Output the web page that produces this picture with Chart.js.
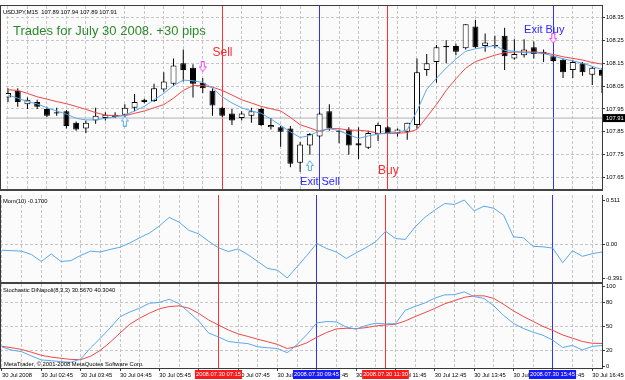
<!DOCTYPE html>
<html><head><meta charset="utf-8">
<script src="https://cdn.jsdelivr.net/npm/chart.js@4.4.1/dist/chart.umd.min.js"></script>
<style>
html,body{margin:0;padding:0;background:#fff;}
#wrap{position:relative;width:625px;height:380px;overflow:hidden;background:#fff;}
canvas{position:absolute;left:0;}
</style></head><body>
<div id="wrap">
<canvas id="cMain" width="625" height="195" style="top:0px"></canvas>
<canvas id="cMom" width="625" height="89" style="top:195px"></canvas>
<canvas id="cSto" width="625" height="96" style="top:284px"></canvas>
</div>
<script>
// ---------------- data ----------------
const headerText = 'USDJPY,M15  107.89 107.94 107.89 107.91';
const titleText = 'Trades for July 30 2008. +30 pips';
const momLabel = 'Mom(10) -0.1700';
const stoLabel = 'Stochastic DiNapoli(8,3,3) 30.5670 40.3040';
const copyLabel = 'MetaTrader, \u00A9 2001-2008 MetaQuotes Software Corp.';

const open  = [108.00,108.03,107.97,107.98,107.95,107.935,107.94,107.89,107.865,107.90,107.91,107.915,107.925,107.955,107.99,107.985,108.035,108.06,108.15,108.13,108.065,108.03,107.955,107.93,107.91,107.92,107.95,107.87,107.87,107.865,107.715,107.79,107.83,107.94,107.855,107.86,107.80,107.78,107.84,107.87,107.845,107.85,107.88,108.12,108.155,108.225,108.225,108.215,108.31,108.225,108.23,108.27,108.17,108.185,108.22,108.20,108.18,108.165,108.12,108.15,108.10,108.12];
const high  = [108.04,108.04,108.00,107.99,107.96,107.955,107.945,107.895,107.90,107.955,107.935,107.935,107.97,108.015,107.995,108.06,108.11,108.17,108.21,108.145,108.085,108.04,107.96,107.95,107.94,107.955,107.955,107.91,107.875,107.875,107.805,107.845,107.935,107.97,107.86,107.87,107.87,107.855,107.89,107.875,107.865,107.89,108.17,108.19,108.23,108.25,108.235,108.32,108.34,108.28,108.27,108.305,108.255,108.255,108.245,108.21,108.185,108.17,108.165,108.155,108.135,108.13];
const low   = [107.98,107.96,107.95,107.95,107.915,107.92,107.865,107.855,107.845,107.885,107.90,107.91,107.91,107.94,107.975,107.98,108.025,108.05,108.07,108.00,108.02,107.92,107.915,107.88,107.90,107.89,107.875,107.86,107.785,107.695,107.675,107.75,107.825,107.855,107.80,107.75,107.73,107.775,107.81,107.84,107.83,107.815,107.865,108.095,108.065,108.15,108.185,108.21,108.215,108.20,108.215,108.12,108.165,108.175,108.17,108.155,108.155,108.085,108.085,108.095,108.055,108.02];
const close = [108.02,107.98,107.99,107.96,107.92,107.93,107.875,107.86,107.89,107.92,107.925,107.925,107.955,107.98,107.98,108.04,108.07,108.14,108.12,108.06,108.04,107.965,107.92,107.90,107.93,107.94,107.88,107.88,107.85,107.71,107.795,107.84,107.93,107.865,107.85,107.79,107.79,107.845,107.88,107.845,107.86,107.89,108.11,108.15,108.22,108.22,108.20,108.32,108.22,108.24,108.225,108.18,108.19,108.21,108.19,108.19,108.16,108.11,108.155,108.11,108.13,108.095];
const maFast = [108.011,107.997,107.982,107.972,107.955,107.941,107.927,107.909,107.902,107.902,107.909,107.915,107.923,107.941,107.961,107.99,108.018,108.052,108.076,108.073,108.066,108.041,108.003,107.976,107.955,107.941,107.931,107.906,107.878,107.85,107.825,107.834,107.855,107.864,107.855,107.837,107.821,107.832,107.84,107.845,107.847,107.859,107.941,108.036,108.084,108.129,108.168,108.202,108.213,108.22,108.227,108.206,108.202,108.196,108.195,108.192,108.182,108.169,108.16,108.15,108.136,108.122];
const maSlow = [108.034,108.031,108.018,108.003,107.993,107.982,107.973,107.961,107.948,107.934,107.923,107.92,107.92,107.931,107.941,107.955,107.969,107.997,108.031,108.052,108.052,108.045,108.031,108.011,107.99,107.976,107.961,107.951,107.941,107.913,107.881,107.867,107.851,107.864,107.864,107.857,107.857,107.853,107.843,107.843,107.843,107.847,107.86,107.914,107.969,108.031,108.082,108.128,108.157,108.171,108.185,108.196,108.199,108.199,108.199,108.196,108.188,108.178,108.171,108.164,108.153,108.146];
const mom = [-0.07,-0.075,-0.08,-0.12,-0.20,-0.112,-0.20,-0.19,-0.13,-0.08,-0.09,-0.06,-0.035,0.015,0.075,0.13,0.21,0.31,0.255,0.16,0.12,0.035,-0.04,-0.085,-0.055,-0.12,-0.20,-0.28,-0.30,-0.391,-0.26,-0.13,0.01,-0.05,-0.09,-0.165,-0.10,-0.04,0.03,0.15,0.066,0.055,0.20,0.31,0.395,0.47,0.46,0.511,0.385,0.44,0.415,0.335,0.085,0.075,-0.025,-0.03,-0.045,-0.215,-0.075,-0.14,-0.11,-0.09];
const stochMain = [24,20,18,12.6,7.6,6.7,5.4,4.7,8.8,22.7,35,48,62,68,72.8,79,80,84,78.6,67.7,56.7,41.6,36.6,31,29.4,28.2,24.2,23,22,16.8,27,39.7,54.2,56,55.5,49,46.4,51,53.8,53,53.3,70.2,75,79.4,85.5,89.5,89.8,93.3,87.4,85,75.7,63.7,53.6,47.3,42.5,38.7,32.5,23.3,25.9,20.2,24.6,25.9];
const stochSignal = [24.8,23,20.8,17.3,13.5,11.3,9.7,8.3,8,12.2,19.8,29.9,41.6,52.6,60.2,66.5,72,74.8,75.7,72.8,66.2,58,51.7,45.4,40.4,37.2,33.7,30.6,27.2,22,24.6,29.3,36.2,42.2,46.7,47.5,47,48.3,50.4,51.7,52.6,56.7,62.2,67.2,72.5,78.2,82.3,86.4,88.3,88.3,85.1,77.6,69.4,62.4,56.1,49.8,44.8,39.1,35,30.9,28.6,28.4];

const xGridIdx = [0,2,4,6,8,10,12,14,16,18,20,22,24,26,28,30,32,34,36,38,40,42,44,46,48,50,52,54,56,58,60];
const xLabelIdx = [0,4,8,12,16,20,24,28,32,36,40,44,48,52,56,60];
const xTickLabels = ['30 Jul 2008','30 Jul 02:45','30 Jul 03:45','30 Jul 04:45','30 Jul 05:45','30 Jul 06:45','30 Jul 07:45','30 Jul 08:45','30 Jul 09:45','30 Jul 10:45','30 Jul 11:45','30 Jul 12:45','30 Jul 13:45','30 Jul 14:45','30 Jul 15:45','30 Jul 16:45'];
const priceTicks = [107.65,107.75,107.85,107.95,108.05,108.15,108.25,108.35];
const momTicks = [0.511,0,-0.391];
const momTickLabels = ['0.511','0.00','-0.391'];
const stochTicks = [0,20,50,80,100];
const stochLevels = [20,50,80];
const bidPrice = 107.91;

const vlineIdx  = [22,32,39,56];
const vlineTime = ['2008.07.30 07:15','2008.07.30 09:45','2008.07.30 11:30','2008.07.30 15:45'];
const vlineKind = ['red','blue','red','blue'];
const noteText  = ['Sell','Exit Sell','Buy','Exit Buy'];
const noteIdx   = [21,30,38,53];
const notePrice = [108.182,107.616,107.664,108.28];
const noteKind  = ['red','blue','red','blue'];
const arrowIdx   = [12,20,31,56];
const arrowPrice = [107.897,108.134,107.703,108.258];
const arrowDir   = ['up','down','up','down'];

// ---------------- styles ----------------
const FONT = "'Liberation Sans', Arial, sans-serif";
const SMALL = {family: FONT, size: 5.8};
const GRID = '#c6c6c6';
const AXIS = '#3a3a3a';
const PANEL_BG = '#fbfbfb';
const BLUE_LINE = '#5aa9ee';
const RED_LINE = '#f04848';
const VCOL = {red:'#ff3030', blue:'#3030ff'};
const NCOL = {red:'#ff2c2c', blue:'#2a2aff'};
const BOXCOL = {red:'#ff1a1a', blue:'#1a1aff'};
const X_MIN = -0.203, X_MAX = 61.0;
const idx = open.map((_, i) => i);
const CLEAR = 'rgba(0,0,0,0)';

Chart.defaults.font.family = FONT;

function makeArrow(dir, color) {
  const cv = document.createElement('canvas');
  cv.width = 8; cv.height = 11;
  const g = cv.getContext('2d');
  g.save();
  if (dir === 'up') { g.translate(0, 11); g.scale(1, -1); }
  g.beginPath();
  g.moveTo(2.5, 0.5); g.lineTo(5.5, 0.5); g.lineTo(5.5, 5.5); g.lineTo(7.5, 5.5);
  g.lineTo(4, 10.2); g.lineTo(0.5, 5.5); g.lineTo(2.5, 5.5); g.closePath();
  g.fillStyle = '#ffffff'; g.fill();
  g.strokeStyle = color; g.lineWidth = 1; g.stroke();
  g.restore();
  return cv;
}
const ARROW_IMG = {up: makeArrow('up', '#5aa9ee'), down: makeArrow('down', '#ee40ee')};

function labelFor(v) {
  const k = xLabelIdx.indexOf(v);
  return k >= 0 ? xTickLabels[k] : '';
}
function xScale(show) {
  return {
    type: 'linear', min: X_MIN, max: X_MAX, offset: false,
    afterBuildTicks: s => { s.ticks = xGridIdx.map(v => ({value: v})); },
    grid: {color: GRID, lineWidth: 1, drawTicks: show, tickLength: 3, offset: false,
           tickColor: ctx => (ctx.tick && xLabelIdx.includes(ctx.tick.value)) ? AXIS : CLEAR},
    border: {display: show, color: AXIS, dash: [3, 2]},
    ticks: {display: show, autoSkip: false, maxRotation: 0, minRotation: 0, align: 'start', padding: 1,
            font: SMALL, color: '#000', callback: v => labelFor(v)},
    afterFit: s => { s.height = show ? 12 : 0; s.paddingLeft = 0; s.paddingRight = 0; }
  };
}
function yScale(min, max, ticks, labelFn, gridFn) {
  return {
    position: 'right', min: min, max: max, beginAtZero: false,
    afterBuildTicks: s => { s.ticks = ticks.map(v => ({value: v})); },
    grid: {color: gridFn, drawTicks: true, tickLength: 3, tickColor: AXIS},
    border: {display: true, color: AXIS, dash: [3, 2]},
    ticks: {padding: 1, font: SMALL, color: '#000', callback: labelFn},
    afterFit: s => { s.width = 23; s.paddingTop = 0; s.paddingBottom = 0; }
  };
}

const bgPlugin = {
  id: 'bg',
  beforeDraw(c) {
    const ctx = c.ctx, a = c.chartArea;
    ctx.save();
    ctx.fillStyle = '#ffffff'; ctx.fillRect(0, 0, c.width, c.height);
    ctx.fillStyle = PANEL_BG; ctx.fillRect(a.left, a.top, a.right - a.left, a.bottom - a.top);
    ctx.restore();
  }
};
function drawVlines(c) {
  const ctx = c.ctx, a = c.chartArea, xs = c.scales.x;
  ctx.save();
  ctx.globalAlpha = 1; ctx.setLineDash([]); ctx.lineWidth = 1;
  vlineIdx.forEach((v, k) => {
    const x = Math.floor(xs.getPixelForValue(v));
    ctx.fillStyle = VCOL[vlineKind[k]];
    ctx.fillRect(x, a.top, 1, a.bottom - a.top);
  });
  ctx.restore();
}
const vlinePlugin = { id: 'vlines', beforeDatasetsDraw(c) { drawVlines(c); } };
const framePlugin = {
  id: 'frame',
  afterDraw(c, args, opts) {
    const ctx = c.ctx, a = c.chartArea;
    ctx.save(); ctx.fillStyle = AXIS;
    ctx.fillRect(0, a.top, 1, a.bottom - a.top);
    if (opts.top) ctx.fillRect(0, a.top - 1, a.right + 1, 1);
    if (opts.sep) { ctx.fillStyle = '#444'; ctx.fillRect(0, a.bottom, a.right + 1, 2); }
    ctx.fillStyle = '#000'; ctx.font = '5.8px ' + FONT; ctx.textAlign = 'left'; ctx.textBaseline = 'alphabetic';
    if (opts.label) ctx.fillText(opts.label, 3, a.top + opts.labelY);
    if (opts.foot) ctx.fillText(opts.foot, 4, a.bottom - 2.5);
    ctx.restore();
  }
};
const mainAnno = {
  id: 'mainAnno',
  afterDatasetsDraw(c) {
    const ctx = c.ctx, xs = c.scales.x, ys = c.scales.y, a = c.chartArea;
    ctx.save();
    ctx.textAlign = 'left'; ctx.textBaseline = 'alphabetic';
    ctx.font = '13px ' + FONT; ctx.fillStyle = '#2b8a2b';
    ctx.fillText(titleText, 13, 35);
    noteText.forEach((t, k) => {
      ctx.font = (noteKind[k] === 'blue' ? '11px ' : '12px ') + FONT;
      ctx.fillStyle = NCOL[noteKind[k]];
      ctx.fillText(t, xs.getPixelForValue(noteIdx[k]), ys.getPixelForValue(notePrice[k]));
    });
    const by = ys.getPixelForValue(bidPrice);
    ctx.fillStyle = '#000'; ctx.fillRect(a.right + 1, by - 4, 22, 8);
    ctx.fillStyle = '#fff'; ctx.font = '5.8px ' + FONT; ctx.textAlign = 'left'; ctx.textBaseline = 'middle';
    ctx.fillText(bidPrice.toFixed(2), a.right + 4, by + 0.5);
    ctx.restore();
  }
};
const timeBoxPlugin = {
  id: 'timeBox',
  afterDraw(c) {
    const ctx = c.ctx, xs = c.scales.x, a = c.chartArea;
    ctx.save();
    ctx.font = '5.8px ' + FONT; ctx.textAlign = 'center'; ctx.textBaseline = 'middle';
    vlineIdx.forEach((v, k) => {
      const x = Math.floor(xs.getPixelForValue(v)) + 0.5;
      const w = ctx.measureText(vlineTime[k]).width + 2;
      ctx.fillStyle = BOXCOL[vlineKind[k]];
      ctx.fillRect(x - w / 2, a.bottom + 2, w, 9);
      ctx.fillStyle = '#fff';
      ctx.fillText(vlineTime[k], x, a.bottom + 6.8);
    });
    ctx.restore();
  }
};

const common = {
  responsive: false, animation: false, devicePixelRatio: 1, events: [],
  plugins: {legend: {display: false}, tooltip: {enabled: false}}
};

// ---------------- main price panel ----------------
new Chart(document.getElementById('cMain'), {
  type: 'bar',
  data: {datasets: [
    {type: 'scatter', data: arrowIdx.map((v, k) => ({x: v, y: arrowPrice[k]})),
     pointStyle: arrowDir.map(d => ARROW_IMG[d]), pointRadius: 5, showLine: false, order: -1},
    {type: 'line', data: idx.map(i => ({x: i, y: maFast[i]})), borderColor: BLUE_LINE, borderWidth: 1, pointRadius: 0, tension: 0, order: 0},
    {type: 'line', data: idx.map(i => ({x: i, y: maSlow[i]})), borderColor: RED_LINE, borderWidth: 1, pointRadius: 0, tension: 0, order: 1},
    {type: 'bar', data: idx.map(i => ({x: i, y: [open[i], close[i]]})),
     backgroundColor: idx.map(i => close[i] >= open[i] ? '#ffffff' : '#000000'),
     borderColor: '#000', borderWidth: 1, borderSkipped: false, barThickness: 6, grouped: false, inflateAmount: 0, order: 2},
    {type: 'bar', data: idx.map(i => ({x: i, y: [low[i], high[i]]})),
     backgroundColor: '#000', borderWidth: 0, barThickness: 1, grouped: false, inflateAmount: 0, order: 3},
    {type: 'line', data: [{x: X_MIN, y: bidPrice}, {x: X_MAX, y: bidPrice}], borderColor: '#b4b4b4', borderWidth: 1, pointRadius: 0, order: 4}
  ]},
  options: Object.assign({}, common, {
    layout: {padding: {top: 2, bottom: 2, left: 0, right: 0}},
    scales: {
      x: xScale(false),
      y: yScale(107.6, 108.4, priceTicks, v => v.toFixed(2), () => GRID)
    },
    plugins: Object.assign({}, common.plugins, {frame: {top: true, sep: true, label: headerText, labelY: 7.5}})
  }),
  plugins: [bgPlugin, vlinePlugin, mainAnno, framePlugin]
});

// ---------------- momentum panel ----------------
new Chart(document.getElementById('cMom'), {
  type: 'line',
  data: {datasets: [
    {data: idx.map(i => ({x: i, y: mom[i]})), borderColor: BLUE_LINE, borderWidth: 1, pointRadius: 0, tension: 0}
  ]},
  options: Object.assign({}, common, {
    layout: {padding: {top: 0, bottom: 2, left: 0, right: 0}},
    scales: {
      x: xScale(false),
      y: yScale(-0.437, 0.569, momTicks, (v, i) => momTickLabels[i], ctx => ctx.tick && ctx.tick.value === 0 ? GRID : CLEAR)
    },
    plugins: Object.assign({}, common.plugins, {frame: {top: false, sep: true, label: momLabel, labelY: 8}})
  }),
  plugins: [bgPlugin, vlinePlugin, framePlugin]
});

// ---------------- stochastic panel ----------------
new Chart(document.getElementById('cSto'), {
  type: 'line',
  data: {datasets: [
    {data: idx.map(i => ({x: i, y: stochMain[i]})), borderColor: BLUE_LINE, borderWidth: 1, pointRadius: 0, tension: 0},
    {data: idx.map(i => ({x: i, y: stochSignal[i]})), borderColor: RED_LINE, borderWidth: 1, pointRadius: 0, tension: 0}
  ]},
  options: Object.assign({}, common, {
    layout: {padding: {top: 0, bottom: 0, left: 0, right: 0}},
    scales: {
      x: xScale(true),
      y: yScale(-2.5, 103.2, stochTicks, v => String(v), ctx => ctx.tick && stochLevels.includes(ctx.tick.value) ? GRID : CLEAR)
    },
    plugins: Object.assign({}, common.plugins, {frame: {top: false, sep: false, label: stoLabel, labelY: 8, foot: copyLabel}})
  }),
  plugins: [bgPlugin, vlinePlugin, framePlugin, timeBoxPlugin]
});
</script>
</body></html>
